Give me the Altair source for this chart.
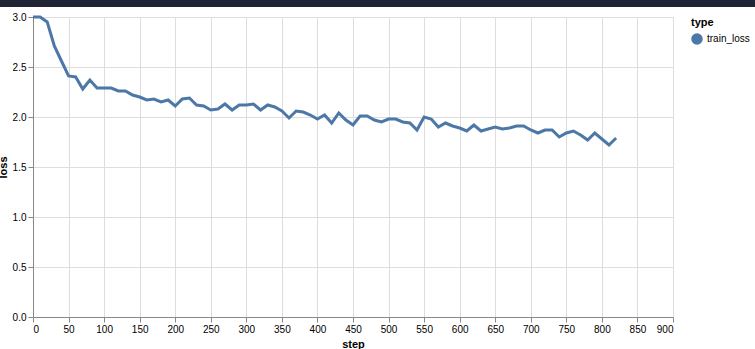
import altair as alt
import pandas as pd

steps = list(range(0, 830, 10))
train_loss = [
    3.00, 3.00, 2.95, 2.71, 2.56, 2.41, 2.40, 2.28, 2.37, 2.29,
    2.29, 2.29, 2.26, 2.26, 2.22, 2.20, 2.17, 2.18, 2.15, 2.17,
    2.11, 2.18, 2.19, 2.12, 2.11, 2.07, 2.08, 2.13, 2.07, 2.12,
    2.12, 2.13, 2.07, 2.12, 2.10, 2.06, 1.99, 2.06, 2.05, 2.02,
    1.98, 2.02, 1.94, 2.04, 1.97, 1.92, 2.01, 2.01, 1.97, 1.95,
    1.98, 1.98, 1.95, 1.94, 1.87, 2.00, 1.98, 1.90, 1.94, 1.91,
    1.89, 1.86, 1.92, 1.86, 1.88, 1.90, 1.88, 1.89, 1.91, 1.91,
    1.87, 1.84, 1.87, 1.87, 1.80, 1.84, 1.86, 1.82, 1.77, 1.84,
    1.78, 1.72, 1.79,
]
series = ["train_loss"] * len(steps)

x_ticks = list(range(0, 901, 50))
y_ticks = [0.0, 0.5, 1.0, 1.5, 2.0, 2.5, 3.0]

df = pd.DataFrame({"step": steps, "loss": train_loss, "type": series})

line = alt.Chart(df).mark_line(strokeWidth=3).encode(
    x=alt.X("step:Q", scale=alt.Scale(domain=[0, 900], nice=False),
            axis=alt.Axis(values=x_ticks, title="step")),
    y=alt.Y("loss:Q", scale=alt.Scale(domain=[0, 3.0], nice=False),
            axis=alt.Axis(values=y_ticks, format=".1f", title="loss")),
    color=alt.Color("type:N",
                    scale=alt.Scale(range=["#4c78a8"]),
                    legend=alt.Legend(title="type", symbolType="circle",
                                      symbolFillColor="#4c78a8",
                                      symbolStrokeColor="#4c78a8")),
)

topbar = alt.Chart(alt.Data(values=[{"k": 1}])).mark_rect(color="#1f2535").encode(
    x=alt.value(-33), x2=alt.value(722), y=alt.value(-17), y2=alt.value(-10)
)

chart = alt.layer(line, topbar).properties(
    width=640,
    height=300,
    autosize=alt.AutoSizeParams(type="none"),
    padding={"left": 33, "top": 17, "right": 82, "bottom": 32},
).configure(font="Liberation Sans").configure_view(stroke="#ddd")

chart.save("out.html", embed_options={"renderer": "svg", "actions": False})
